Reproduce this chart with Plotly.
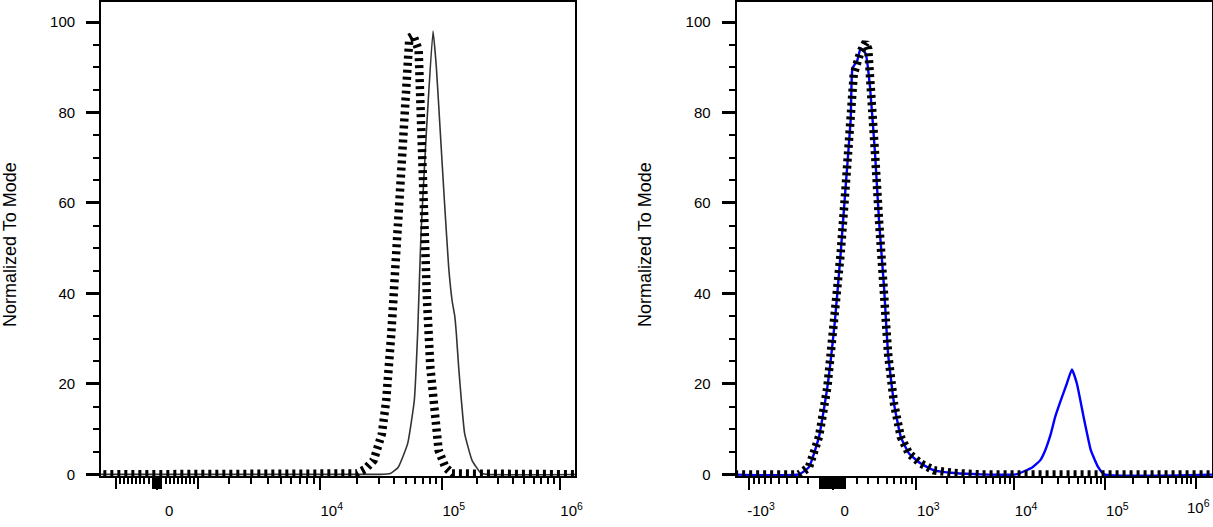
import numpy as np
import plotly.graph_objects as go

# ---------------- data (raw fluorescence intensity vs. % of mode) ----------------
left_solid_x = [-1600, 30000, 37200, 43300, 51800, 58900, 62800, 67000, 74200, 84500,
                90100, 97400, 105300, 114400, 122200, 128800, 132800, 139000, 146500,
                156200, 180400, 212200, 240000, 1900000]
left_solid_y = [0, 0, 0.2, 1.6, 6.8, 16.4, 31.2, 53.3, 75.4, 98.0,
                90.1, 75.4, 60.6, 45.9, 38.5, 35.0, 31.2, 23.7, 16.4,
                9.0, 3.1, 0.4, 0, 0]

left_dash_x = [-1600, 19800, 23200, 27100, 31700, 34400, 37900, 40900, 43600, 46500,
               50500, 53500, 57800, 64000, 66100, 68300, 71900, 75200, 80200, 86700,
               94200, 107200, 122200, 1900000]
left_dash_y = [0, 0.2, 1.2, 3.1, 9.0, 16.4, 31.2, 45.9, 60.6, 75.4,
               90.1, 96.5, 97.0, 93.8, 82.7, 68.0, 53.3, 38.5, 23.7, 12.7,
               5.3, 1.6, 0.2, 0]

right_blue_x = [-1600, -282, -193, -109, -42, 18, 63, 103, 144, 159, 200, 230, 276, 317,
                368, 411, 469, 519, 600, 702, 848, 1104, 1489, 2355, 4425, 10435, 12835,
                15820, 19160, 21720, 25070, 27950, 32280, 37580, 42660, 48430, 57450,
                69150, 83280, 97000, 1900000]
right_blue_y = [0, 0, 1.6, 8.3, 19.3, 34.1, 48.8, 63.6, 78.3, 89.7, 91.5, 94.2, 93.0, 85.7,
                71.0, 56.2, 41.4, 26.7, 15.6, 8.3, 4.6, 2.4, 0.9, 0.3, 0, 0, 0.7,
                1.6, 3.1, 5.3, 9.0, 12.7, 16.4, 20.1, 23.2, 20.1, 12.7,
                5.3, 1.6, 0, 0]

right_dash_x = [-1600, -282, -193, -109, -42, 18, 63, 103, 144, 170, 230, 276, 300, 317,
                368, 411, 469, 519, 600, 702, 848, 1104, 1489, 2355, 4425, 1900000]
right_dash_y = [0, 0, 1.6, 8.3, 19.3, 34.1, 48.8, 63.6, 78.3, 88.5, 93.5, 95.5, 94.0, 85.7,
                71.0, 56.2, 41.4, 26.7, 15.6, 8.3, 4.6, 2.4, 0.9, 0.3, 0, 0]

y_ticks = [0, 20, 40, 60, 80, 100]
left_major = [0, 1e4, 1e5, 1e6]
left_labels = ["0", "10<sup>4</sup>", "10<sup>5</sup>", "10<sup>6</sup>"]
left_long_unlabeled = [-1000, 1000]
right_major = [-1000, 0, 1000, 1e4, 1e5]
right_labels = ["-10<sup>3</sup>", "0", "10<sup>3</sup>", "10<sup>4</sup>", "10<sup>5</sup>"]
right_long_unlabeled = [1e6]
right_edge_label = "10<sup>6</sup>"   # drawn flush with the frame edge, as in the source
y_title = "Normalized To Mode"


# ---------------- biexponential (logicle-like) display scale ----------------
def make_scale(K, p):
    ug = np.linspace(-6, 6, 24001)
    a = np.abs(ug)
    xg = np.sign(ug) * K * (10 ** a - p * p * 10 ** (-a / p) + p * p - 1)
    def f(x):
        return np.interp(np.asarray(x, dtype=float), xg, ug)
    return f

left_scale = make_scale(370.0, 2.2)
right_scale = make_scale(93.5, 2.3)

near_zero = [s * m * 10 for m in range(1, 11) for s in (1, -1)]   # +-10 .. +-100
minors = []
for m in range(2, 10):
    minors += [m * 100, -m * 100]
for d in [1e3, 1e4, 1e5, 1e6]:
    for m in range(2, 10):
        minors += [m * d, -m * d]

RW, RH = 1213, 527          # reference frame (layout fractions)
W, H = 1221, 535            # page size the viewer captures
ydom = [1 - 475 / RH, 1 - 2 / RH]
xdom1 = [101 / RW, 575 / RW]
xdom2 = [736 / RW, 1211 / RW]
xr1 = [-56 / 117.2, 418 / 117.2]
xr2 = [-96 / 90.0, 379 / 90.0]

dash_line = dict(color="black", width=8.5, dash="3px,4px")

fig = go.Figure()
fig.add_trace(go.Scatter(x=left_scale(left_solid_x), y=left_solid_y, mode="lines",
                         line=dict(color="#333333", width=1.6, shape="spline", smoothing=0.4),
                         xaxis="x", yaxis="y", showlegend=False, hoverinfo="skip"))
fig.add_trace(go.Scatter(x=left_scale(left_dash_x), y=left_dash_y, mode="lines",
                         line=dash_line, xaxis="x", yaxis="y",
                         showlegend=False, hoverinfo="skip"))
fig.add_trace(go.Scatter(x=right_scale(right_blue_x), y=right_blue_y, mode="lines",
                         line=dict(color="#0000ff", width=2.4, shape="spline", smoothing=0.4),
                         xaxis="x2", yaxis="y2", showlegend=False, hoverinfo="skip"))
fig.add_trace(go.Scatter(x=right_scale(right_dash_x), y=right_dash_y, mode="lines",
                         line=dash_line, xaxis="x2", yaxis="y2",
                         showlegend=False, hoverinfo="skip"))
# invisible traces so the tick-only overlay axes are drawn
fig.add_trace(go.Scatter(x=[xr1[0]], y=[-5], mode="markers", marker=dict(opacity=0),
                         xaxis="x3", yaxis="y", showlegend=False, hoverinfo="skip"))
fig.add_trace(go.Scatter(x=[xr2[0]], y=[-5], mode="markers", marker=dict(opacity=0),
                         xaxis="x4", yaxis="y2", showlegend=False, hoverinfo="skip"))

tickfont = dict(family="Liberation Sans, Arial", size=15, color="black")

def xaxis(dom, scale, rng, major, labels, anchor):
    return dict(domain=dom, range=rng, anchor=anchor, showgrid=False, zeroline=False,
                showline=True, linecolor="black", linewidth=2, mirror=True,
                tickmode="array", tickvals=list(scale(major)), ticktext=labels,
                ticks="outside", ticklen=12, tickwidth=2.2, tickcolor="black",
                tickfont=tickfont, ticklabelshift=12, ticklabelstandoff=8,
                minor=dict(tickmode="array", tickvals=list(scale(minors)), ticks="outside",
                           ticklen=6, tickwidth=1.5, tickcolor="black", showgrid=False))

def tick_overlay(base, anchor, scale, rng, vals):
    return dict(overlaying=base, anchor=anchor, range=rng, showgrid=False, zeroline=False,
                showline=False, tickmode="array", tickvals=list(scale(vals)), ticks="outside",
                ticklen=12, tickwidth=1.6, tickcolor="black", showticklabels=False,
                side="bottom")

def yaxis(anchor):
    return dict(domain=ydom, range=[-0.332, 104.43], anchor=anchor, showgrid=False,
                zeroline=False, showline=True, linecolor="black", linewidth=2, mirror=True,
                tickmode="array", tickvals=y_ticks, ticks="outside", ticklen=13,
                tickwidth=2.8, tickcolor="black", tickfont=tickfont, ticklabelstandoff=8,
                minor=dict(dtick=5, tick0=0, ticks="outside", ticklen=6, tickwidth=1.6,
                           tickcolor="black", showgrid=False))

title_font = dict(family="Liberation Sans, Arial", size=18, color="black")
fig.update_layout(
    width=W, height=H, margin=dict(l=0, r=0, t=0, b=0),
    paper_bgcolor="white", plot_bgcolor="white",
    xaxis=xaxis(xdom1, left_scale, xr1, left_major, left_labels, "y"),
    yaxis=yaxis("x"),
    xaxis2=xaxis(xdom2, right_scale, xr2, right_major, right_labels, "y2"),
    yaxis2=yaxis("x2"),
    xaxis3=tick_overlay("x", "y", left_scale, xr1, left_long_unlabeled + near_zero),
    xaxis4=tick_overlay("x2", "y2", right_scale, xr2, right_long_unlabeled + near_zero),
    annotations=[
        dict(text=y_title, x=10.5 / RW, y=0.537, xref="paper", yref="paper", textangle=-90,
             showarrow=False, xanchor="center", yanchor="middle", font=title_font),
        dict(text=y_title, x=645 / RW, y=0.537, xref="paper", yref="paper", textangle=-90,
             showarrow=False, xanchor="center", yanchor="middle", font=title_font),
        dict(text=right_edge_label, x=1210 / RW, y=1 - 495 / RH, xref="paper", yref="paper",
             showarrow=False, xanchor="right", yanchor="top", font=tickfont, borderpad=0),
    ],
)

fig.write_html("out.html", config={"displayModeBar": False},
               post_script="document.body.style.margin='0px';document.body.style.overflow='hidden';")
